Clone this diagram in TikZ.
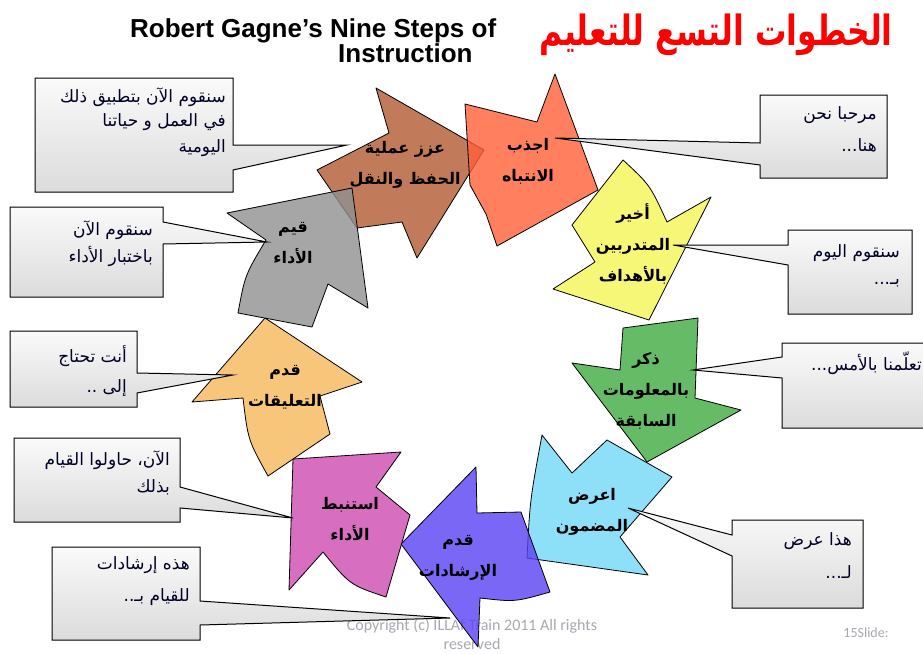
\documentclass[tikz,border=0pt]{standalone}
\usepackage{fontspec}
\setmainfont{Liberation Sans}
\newfontfamily\arabicfont[Script=Arabic]{DejaVu Sans}
\newfontfamily\copyfont{Carlito}
\TeXXeTstate=1
\newcommand{\arl}[1]{\beginR #1\endR}
\definecolor{cRed}{HTML}{FF6038}
\definecolor{cBrown}{HTML}{B25931}
\definecolor{cGray}{HTML}{909090}
\definecolor{cOrange}{HTML}{F6B859}
\definecolor{cMagenta}{HTML}{CF4AB0}
\definecolor{cBlue}{HTML}{5A42F4}
\definecolor{cCyan}{HTML}{72D9F7}
\definecolor{cGreen}{HTML}{40AA40}
\definecolor{cYellow}{HTML}{F4F456}
\definecolor{cTitle}{HTML}{FF0000}
\definecolor{cFoot}{HTML}{A8A8B0}
\begin{document}
\begin{tikzpicture}[x=1pt,y=-1pt,
  arrowshape/.style={draw=black, line width=0.8pt, fill opacity=0.8, line join=round},
  callout/.style={draw=black, line width=1pt, top color=gray!4, bottom color=gray!28, line join=miter},
  lbl/.style={font=\arabicfont\bfseries\fontsize{16}{31}\selectfont, align=center, text=black, inner sep=0pt},
  ctext/.style={font=\arabicfont\fontsize{17}{20}\selectfont, anchor=east, inner sep=0pt, text=black!85!blue},
  foot/.style={font=\copyfont\fontsize{16}{18}\selectfont, text=cFoot, inner sep=0pt}]
\useasboundingbox (0,0) rectangle (923,653);
\fill[white] (0,0) rectangle (923,653);

% titles
\node[anchor=base west, inner sep=0pt, font=\bfseries\fontsize{26}{30}\selectfont] (t1) at (130,37) {Robert Gagne’s Nine Steps of};
\node[anchor=base west, inner sep=0pt, font=\bfseries\fontsize{26}{30}\selectfont] (t2) at (338,62) {Instruction};
\node[anchor=base east, inner sep=0pt, font=\arabicfont\bfseries\fontsize{32}{36}\selectfont, text=cTitle] (tar) at (893,45) {\scalebox{0.98}[1.3]{\arl{الخطوات التسع للتعليم}}};

% footer
\node[foot] (f1) at (472,626) {Copyright (c) ILLAf Train 2011 All rights};
\node[foot] (f2) at (472,644) {reserved};
\node[foot, font=\copyfont\fontsize{14}{16}\selectfont] (f3) at (866,633) {15Slide:};

% arrows
\fill[arrowshape, fill=cBrown] (484,150) -- (376,88) -- (389,133) -- (317,170) -- (357,228) -- (402,222) -- (417,258) -- cycle;
\fill[arrowshape, fill=cRed] (465,104) -- (537,122) -- (555,74) -- (598,190) -- (497,246) -- (486,214) -- (470,185) -- cycle;
\fill[arrowshape, fill=cYellow] (623,160) .. controls (650,185) .. (667,222) -- (711,197) -- (649,320) -- (553,289) -- (595,262) -- (572,225) -- cycle;
\fill[arrowshape, fill=cGreen] (623,328) -- (698,318) -- (695,398) -- (741,410) -- (647,462) -- (572,363) -- (620,370) -- cycle;
\fill[arrowshape, fill=cCyan] (542,435) -- (572,473) -- (607,440) -- (672,477) -- (620,537) -- (648,575) -- (527,558) .. controls (530,500) .. (542,435) -- cycle;
\fill[arrowshape, fill=cBlue] (401,544) -- (476,467) -- (477,513) -- (521,512) -- (550,592) .. controls (515,602) .. (480,598) -- (478,647) -- cycle;
\fill[arrowshape, fill=cMagenta] (293,459) -- (401,452) -- (376,487) -- (410,515) -- (386,597) .. controls (350,585) .. (323,552) -- (289,590) -- cycle;
\fill[arrowshape, fill=cOrange] (265,318) -- (362,382) -- (320,396) -- (330,434) -- (268,476) .. controls (248,440) .. (243,398) -- (192,402) -- cycle;
\fill[arrowshape, fill=cGray] (352,188) -- (227,213) -- (266,240) .. controls (245,275) .. (238,313) -- (312,327) -- (328,284) -- (368,308) -- cycle;

% callout tips
\coordinate (p1) at (347,145);
\coordinate (p2) at (267,242);
\coordinate (p3) at (233,375);
\coordinate (p4) at (293,518);
\coordinate (p5) at (450,618);
\coordinate (p6) at (555,138);
\coordinate (p7) at (673,245);
\coordinate (p8) at (693,370);
\coordinate (p9) at (628,508);

% callouts
\shade[callout] (35,78) -- (233,78) -- (233,145) -- (p1) -- (233,170) -- (233,192) -- (35,192) -- cycle;
\shade[callout] (10,207) -- (163,207) -- (163,222) -- (p2) -- (163,244) -- (163,297) -- (10,297) -- cycle;
\shade[callout] (10,331) -- (137,331) -- (137,373) -- (p3) -- (137,393) -- (137,407) -- (10,407) -- cycle;
\shade[callout] (14,438) -- (180,438) -- (180,487) -- (p4) -- (180,508) -- (180,522) -- (14,522) -- cycle;
\shade[callout] (52,547) -- (200,547) -- (200,601) -- (p5) -- (200,625) -- (200,640) -- (52,640) -- cycle;
\shade[callout] (760,95) -- (887,95) -- (887,178) -- (760,178) -- (760,165) -- (p6) -- (760,143) -- cycle;
\shade[callout] (788,230) -- (912,230) -- (912,314) -- (788,314) -- (788,265) -- (p7) -- (788,245) -- cycle;
\shade[callout] (782,343) -- (940,343) -- (940,428) -- (782,428) -- (782,378) -- (p8) -- (782,357) -- cycle;
\shade[callout] (732,520) -- (863,520) -- (863,608) -- (732,608) -- (732,556) -- (p9) -- (732,535) -- cycle;

% callout texts
\node[ctext] (c1a) at (226,97) {\arl{سنقوم الآن بتطبيق ذلك}};
\node[ctext] (c1b) at (226,122) {\arl{في العمل و حياتنا}};
\node[ctext] (c1c) at (226,148) {\arl{اليومية}};
\node[ctext] (c2a) at (153,230) {\arl{سنقوم الآن}};
\node[ctext] (c2b) at (153,256) {\arl{باختبار الأداء}};
\node[ctext] (c3a) at (127,356) {\arl{أنت تحتاج}};
\node[ctext] (c3b) at (127,388) {\arl{إلى ..}};
\node[ctext] (c4a) at (170,460) {\arl{الآن، حاولوا القيام}};
\node[ctext] (c4b) at (170,487) {\arl{بذلك}};
\node[ctext] (c5a) at (190,565) {\arl{هذه إرشادات}};
\node[ctext] (c5b) at (190,597) {\arl{للقيام بـ..}};
\node[ctext] (c6a) at (877,115) {\arl{مرحبا نحن}};
\node[ctext] (c6b) at (877,145) {\arl{هنا...}};
\node[ctext] (c7a) at (900,253) {\arl{سنقوم اليوم}};
\node[ctext] (c7b) at (900,283) {\arl{بـ...}};
\node[ctext] (c8a) at (922,363) {\arl{تعلّمنا بالأمس...}};
\node[ctext] (c9a) at (852,541) {\arl{هذا عرض}};
\node[ctext] (c9b) at (852,572) {\arl{لـ...}};

% arrow labels
\node[lbl] (l1) at (528,161) {\arl{اجذب}\\\arl{الانتباه}};
\node[lbl] (l2) at (405,165) {\arl{عزز عملية}\\\arl{الحفظ والنقل}};
\node[lbl] (l3) at (633,244) {\arl{أخير}\\\arl{المتدربين}\\\arl{بالأهداف}};
\node[lbl] (l4) at (646,391) {\arl{ذكر}\\\arl{بالمعلومات}\\\arl{السابقة}};
\node[lbl] (l5) at (592,512) {\arl{اعرض}\\\arl{المضمون}};
\node[lbl] (l6) at (458,558) {\arl{قدم}\\\arl{الإرشادات}};
\node[lbl] (l7) at (350,519) {\arl{استنبط}\\\arl{الأداء}};
\node[lbl] (l8) at (285,387) {\arl{قدم}\\\arl{التعليقات}};
\node[lbl] (l9) at (293,243) {\arl{قيم}\\\arl{الأداء}};
\end{tikzpicture}
\end{document}
